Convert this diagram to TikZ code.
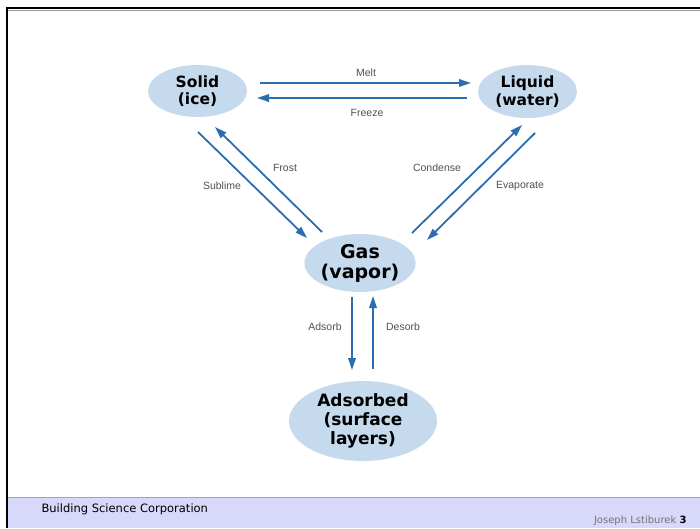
\documentclass[tikz,border=0pt]{standalone}
\usepackage{fontspec}
\setmainfont{Liberation Sans}
\newfontfamily\phasefont{DejaVu Sans}
\usetikzlibrary{arrows.meta,shapes.geometric}
\definecolor{phaseblue}{HTML}{2C6CB0}
\definecolor{phasefill}{HTML}{C6DAEE}
\definecolor{footband}{HTML}{D8D8FA}
\definecolor{labelgray}{HTML}{505050}
\tikzset{
  phase/.style={ellipse, fill=phasefill, inner sep=0pt, align=center},
  flow/.style={phaseblue, line width=1.8pt, -{Triangle[length=12pt,width=7.5pt]}},
  lbl/.style={text=labelgray, font=\fontsize{10.5}{12}\selectfont}
}
\begin{document}
\begin{tikzpicture}[x=1pt, y=-1pt]
            \useasboundingbox (0,0) rectangle (700,528);
            % frame and footer
            \fill[footband] (8,497) rectangle (700,528);
            \draw[black!35, line width=0.6pt] (8,497) -- (700,497);
            \draw[line width=2pt] (7,528) -- (7,8) -- (700,8);
            \draw[black!40, line width=1pt] (8,10) -- (700,10);
            \node[anchor=west, font=\phasefont\fontsize{11.5}{13}\selectfont] (corp) at (38,509) {Building Science Corporation};
            \node[anchor=east, font=\phasefont\fontsize{10}{12}\selectfont] (page) at (690,521) {\textcolor{black!55}{Joseph Lstiburek}\ \textbf{3}};
            % phases
            \node[phase, minimum width=99pt, minimum height=52pt, font=\phasefont\bfseries\fontsize{15.5}{17.5}\selectfont] (solid) at (197.5,91) {Solid\\(ice)};
            \node[phase, minimum width=99pt, minimum height=53pt, font=\phasefont\bfseries\fontsize{15.5}{17.5}\selectfont] (liquid) at (527.5,91.5) {Liquid\\(water)};
            \node[phase, minimum width=104pt, minimum height=58pt, font=\phasefont\bfseries\fontsize{19}{20}\selectfont] (gas) at (360,263) {Gas\\(vapor)};
            \node[phase, minimum width=148pt, minimum height=80pt, font=\phasefont\bfseries\fontsize{17}{19}\selectfont] (adsorbed) at (363,421) {Adsorbed\\(surface\\layers)};
            % arrow ends
            \coordinate (melt-s) at (260,83);      \coordinate (melt-e) at (471,83);
            \coordinate (freeze-s) at (467,98);    \coordinate (freeze-e) at (257,98);
            \coordinate (frost-s) at (322,232);    \coordinate (frost-e) at (215,127);
            \coordinate (sublime-s) at (198,132);  \coordinate (sublime-e) at (307,238);
            \coordinate (condense-s) at (412,233); \coordinate (condense-e) at (522,125);
            \coordinate (evaporate-s) at (535,133);\coordinate (evaporate-e) at (427,240);
            \coordinate (adsorb-s) at (352,297);   \coordinate (adsorb-e) at (352,370);
            \coordinate (desorb-s) at (373,369);   \coordinate (desorb-e) at (373,296);
            \foreach \p in {melt,freeze,frost,sublime,condense,evaporate,adsorb,desorb}
                \draw[flow] (\p-s) -- (\p-e);
            % labels
            \node[lbl] (meltlbl) at (366,73) {Melt};
            \node[lbl] (freezelbl) at (367,113) {Freeze};
            \node[lbl] (frostlbl) at (285,168) {Frost};
            \node[lbl] (sublimelbl) at (222,186) {Sublime};
            \node[lbl] (condenselbl) at (437,168) {Condense};
            \node[lbl] (evaporatelbl) at (520,186) {Evaporate};
            \node[lbl] (adsorblbl) at (325,327) {Adsorb};
            \node[lbl] (desorblbl) at (403,327) {Desorb};
        \end{tikzpicture}
\end{document}
